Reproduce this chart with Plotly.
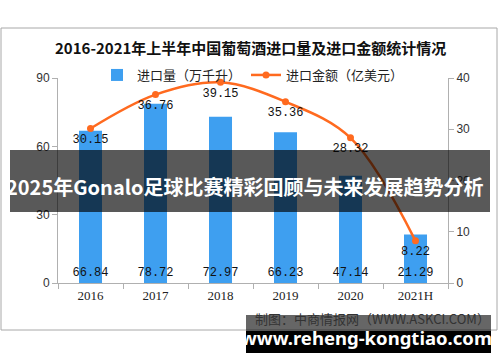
import plotly.graph_objects as go

years = ["2016", "2017", "2018", "2019", "2020", "2021H"]
volume = [66.84, 78.72, 72.97, 66.23, 47.14, 21.29]
amount = [30.15, 36.76, 39.15, 35.36, 28.32, 8.22]
vol_name = "进口量（万千升）"
amt_name = "进口金额（亿美元）"
title_text = "2016-2021年上半年中国葡萄酒进口量及进口金额统计情况"
overlay_text = "2025年Gonalo足球比赛精彩回顾与未来发展趋势分析"
source_text = "制图：中商情报网（WWW.ASKCI.COM）"
banner_text = "www.reheng-kongtiao.com"

W, H = 500, 362
L, R, T, B = 58, 448, 78, 283  # plot area in pixels


def px(x):
    return (x - L) / (R - L)


def py(y):
    return (B - y) / (B - T)


num_font = dict(family="Liberation Mono, DejaVu Sans Mono, monospace", size=12, color="#111111")

fig = go.Figure()
fig.add_trace(go.Bar(
    x=years, y=volume, name=vol_name, marker=dict(color="#3e9ff0", line=dict(width=0)),
    text=[f"{v:.2f}" for v in volume], textposition="inside", insidetextanchor="start",
    textfont=num_font, constraintext="none", textangle=0, yaxis="y",
))
fig.add_trace(go.Scatter(
    x=years, y=amount, name=amt_name, mode="lines+markers+text",
    line=dict(color="#ff6a1f", width=2.5, shape="spline", smoothing=1.0),
    marker=dict(color="#ff6a1f", size=7),
    text=[f"{v:.2f}" for v in amount], textposition="bottom center",
    textfont=num_font, yaxis="y2", cliponaxis=False,
))

axis_font = dict(family="Liberation Sans, Arial, sans-serif", size=12, color="#333333")
fig.update_layout(
    width=W, height=H,
    margin=dict(l=L, r=W - R, t=T, b=H - B),
    paper_bgcolor="white", plot_bgcolor="white",
    showlegend=True,
    bargap=0.646,
    legend=dict(orientation="h", x=0.5, xanchor="center", y=py(75), yanchor="middle",
                font=dict(family="Noto Sans CJK SC", size=13, color="#222222"),
                itemwidth=30, bgcolor="rgba(0,0,0,0)", traceorder="normal"),
    xaxis=dict(type="category", showline=True, linecolor="#b0b0b0", linewidth=1,
               ticks="outside", ticklen=5, tickcolor="#b0b0b0", tickson="boundaries",
               tickfont=dict(family="Liberation Serif, DejaVu Serif, serif", size=13, color="#222222"),
               showgrid=False, zeroline=False),
    yaxis=dict(range=[0, 90], dtick=30, showline=True, linecolor="#b0b0b0", linewidth=1,
               ticks="outside", ticklen=5, tickcolor="#b0b0b0", showgrid=False, zeroline=False,
               tickfont=axis_font),
    yaxis2=dict(range=[0, 40], dtick=10, overlaying="y", side="right", showline=True,
                linecolor="#b0b0b0", linewidth=1, ticks="outside", ticklen=5, tickcolor="#b0b0b0",
                showgrid=False, zeroline=False, tickfont=axis_font),
)

shapes = [
    # outer frame
    dict(type="rect", xref="paper", yref="paper", x0=px(1), x1=px(497), y0=py(330), y1=py(28),
         line=dict(color="#a8a8a8", width=1), fillcolor="rgba(0,0,0,0)", layer="below"),
    # dark overlay band
    dict(type="rect", xref="paper", yref="paper", x0=px(10), x1=px(490), y0=py(212), y1=py(150),
         line=dict(width=0), fillcolor="rgba(0,0,0,0.65)", layer="above"),
    # bottom banner (gray part inside frame)
    dict(type="rect", xref="paper", yref="paper", x0=px(246), x1=px(491), y0=py(331), y1=py(315),
         line=dict(width=0), fillcolor="rgba(0,0,0,0.6)", layer="above"),
    # bottom banner (black part)
    dict(type="rect", xref="paper", yref="paper", x0=px(246), x1=px(491), y0=py(353), y1=py(331),
         line=dict(width=0), fillcolor="#000000", layer="above"),
]
fig.update_layout(shapes=shapes)

annotations = [
    dict(text=f"<b>{title_text}</b>", xref="paper", yref="paper", x=px(250), y=py(47),
         xanchor="center", yanchor="middle", showarrow=False,
         font=dict(family="Noto Sans CJK SC", size=15, color="#111111")),
    dict(text=source_text, xref="paper", yref="paper", x=px(253), y=py(318),
         xanchor="left", yanchor="middle", showarrow=False,
         font=dict(family="Noto Sans CJK SC", size=13, color="#333333")),
    dict(text=f"<b>{overlay_text}</b>", xref="paper", yref="paper", x=px(245), y=py(186),
         xanchor="center", yanchor="middle", showarrow=False,
         font=dict(family="Noto Sans CJK SC", size=20, color="#ffffff")),
    dict(text=f"<b>{banner_text}</b>", xref="paper", yref="paper", x=px(366), y=py(337),
         xanchor="center", yanchor="middle", showarrow=False,
         font=dict(family="Noto Sans, Open Sans, sans-serif", size=18.5, color="#ffffff")),
]
fig.update_layout(annotations=annotations)

fig.write_html("out.html", config={"displayModeBar": False},
               post_script="document.body.style.margin='0';document.body.style.padding='0';")
